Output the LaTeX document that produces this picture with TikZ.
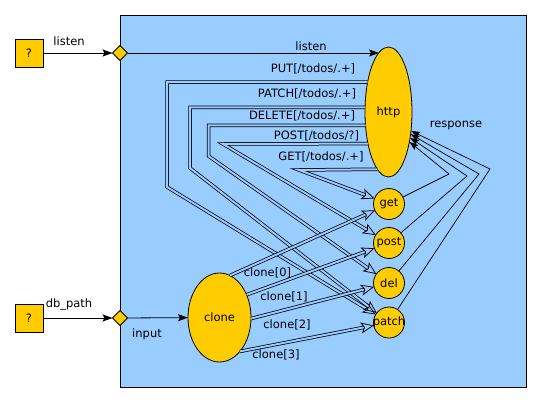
\documentclass[tikz,border=0pt]{standalone}
\usepackage{fontspec}
\setmainfont{DejaVu Sans}
\usetikzlibrary{shapes.geometric,arrows.meta}
\definecolor{gvyellow}{HTML}{FFCC00}
\definecolor{gvblue}{HTML}{99CCFF}
\begin{document}
\begin{tikzpicture}[x=1pt,y=-1pt, font=\fontsize{11.5}{13}\selectfont,
  every node/.style={inner sep=0pt, outer sep=0pt},
  box/.style={draw, fill=gvyellow, minimum size=28pt, line width=0.8pt},
  port/.style={diamond, draw, fill=gvyellow, minimum width=15pt, minimum height=15pt, line width=0.8pt},
  big/.style={ellipse, draw, fill=gvyellow, line width=0.8pt},
  small/.style={circle, draw, fill=gvyellow, minimum size=31pt, line width=0.8pt},
  arr/.style={line width=0.8pt, -{Stealth[length=10pt,width=7pt,inset=2pt]}},
  dbl/.style={line width=0.75pt, double=gvblue, double distance=2pt, -{Stealth[length=13pt,width=11pt,inset=3pt,open]}},
  resp/.style={line width=0.7pt, -{Stealth[length=9pt,width=6pt,inset=1.5pt]}}]
\useasboundingbox (0,0) rectangle (541,402);
\fill[white] (0,0) rectangle (541,402);
\draw[fill=gvblue, line width=0.8pt] (120,15) rectangle (526,387);

% nodes
\node[box] (q1) at (29,53) {?};
\node[box] (q2) at (29,318) {?};
\node[port] (lp) at (120,53) {};
\node[port] (dp) at (120,318) {};
\node[big, minimum width=47pt, minimum height=130pt] (http) at (388.5,112) {http};
\node[big, minimum width=63pt, minimum height=89pt] (clone) at (219.5,317.5) {clone};
\node[small] (get) at (389,204) {\makebox[0pt]{get}};
\node[small] (post) at (389,243) {\makebox[0pt]{post}};
\node[small] (del) at (389,283) {\makebox[0pt]{del}};
\node[small] (patch) at (389,322.5) {\makebox[0pt]{patch}};

% corner coordinates
\coordinate (putB) at (167,187);
\coordinate (patchB) at (190,168);
\coordinate (delB) at (208.5,156);
\coordinate (postB) at (223,144);
\coordinate (getB) at (299,170);
\coordinate (rget) at (449,174);
\coordinate (rpost) at (467,176);
\coordinate (rdel) at (479,174);
\coordinate (rpatch) at (490,169);

% outer edges
\draw[arr] (q1) -- (lp);
\draw[arr] (q2) -- (dp);
\draw[arr] (lp.east) -- (lp.east -| http.99.5);
\draw[arr] (dp) -- (clone);

% http -> handlers (double)
\draw[dbl] (http.125.3) -| (putB) -- (patch);
\draw[dbl] (http.169.1) -| (patchB) -- (patch);
\draw[dbl] (http.210.4) -| (delB) -- (del);
\draw[dbl] (http.237.4) -- (postB) -- (post);
\draw[dbl] (http.259.7) -- (getB) -- (get);

% clone -> handlers (double)
\draw[dbl] (clone.76) -- (get);
\draw[dbl] (clone.40.5) -- (post);
\draw[dbl] (clone.-2) -- (del);
\draw[dbl] (clone.-59.3) -- (patch);

% responses
\draw[resp] (get) -- (rget) -- (http.-55);
\draw[resp] (post) -- (rpost) -- (http.-50);
\draw[resp] (del) -- (rdel) -- (http.-45);
\draw[resp] (patch) -- (rpatch) -- (http.-40);

% labels
\node (t1) at (69,41) {listen};
\node (t2) at (69,304) {db\_path};
\node (t3) at (147,334) {input};
\node (t4) at (311,46) {listen};
\node (t5) at (313,69) {PUT[/todos/.+]};
\node (t6) at (307,94) {PATCH[/todos/.+]};
\node (t7) at (302,116) {DELETE[/todos/.+]};
\node (t8) at (316.5,136) {POST[/todos/?]};
\node (t9) at (321,157) {GET[/todos/.+]};
\node (t10) at (456,125) {response};
\node (t11) at (267.5,273) {clone[0]};
\node (t12) at (284,297) {clone[1]};
\node (t13) at (287,325) {clone[2]};
\node (t14) at (276,355) {clone[3]};
\end{tikzpicture}
\end{document}
